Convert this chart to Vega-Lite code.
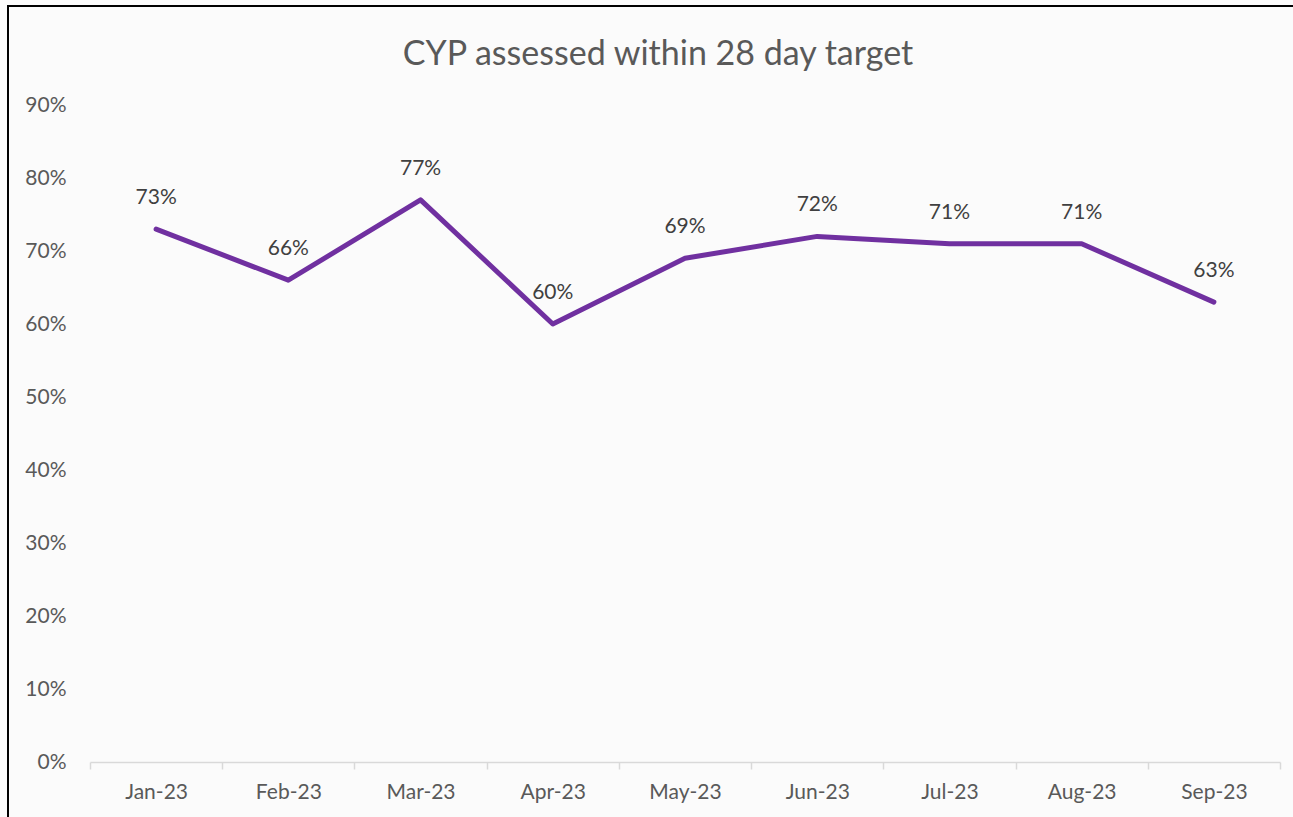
{
  "$schema": "https://vega.github.io/schema/vega-lite/v6.json",
  "autosize": {"type": "none"},
  "padding": {"left": 8, "top": 6, "right": 0, "bottom": 0},
  "width": 1300,
  "height": 820,
  "background": "#fbfbfb",
  "config": {
    "view": {"stroke": "#000000", "strokeWidth": 2, "fill": "#fbfbfb"},
    "font": "Lato"
  },
  "title": {
    "text": "CYP assessed within 28 day target",
    "anchor": "middle",
    "frame": "group",
    "orient": "top",
    "offset": -56,
    "dy": 37,
    "baseline": "alphabetic",
    "fontSize": 34,
    "font": "Lato",
    "fontWeight": "normal",
    "color": "#595959"
  },
  "data": {
    "values": [
      {"month": "Jan-23", "pct": 0.73},
      {"month": "Feb-23", "pct": 0.66},
      {"month": "Mar-23", "pct": 0.77},
      {"month": "Apr-23", "pct": 0.60},
      {"month": "May-23", "pct": 0.69},
      {"month": "Jun-23", "pct": 0.72},
      {"month": "Jul-23", "pct": 0.71},
      {"month": "Aug-23", "pct": 0.71},
      {"month": "Sep-23", "pct": 0.63}
    ]
  },
  "encoding": {
    "x": {
      "field": "month",
      "type": "ordinal",
      "sort": null,
      "bandPosition": 0.5,
      "scale": {"type": "band", "range": [82, 1272], "paddingInner": 0, "paddingOuter": 0},
      "axis": {
        "orient": "bottom",
        "offset": -64,
        "title": null,
        "grid": false,
        "domainColor": "#d9d9d9",
        "domainWidth": 1.5,
        "tickColor": "#d9d9d9",
        "tickWidth": 1.5,
        "tickSize": 7,
        "tickBand": "extent",
        "labelAngle": 0,
        "labelPadding": 12,
        "labelFontSize": 21,
        "labelColor": "#595959",
        "labelFont": "Lato"
      }
    },
    "y": {
      "field": "pct",
      "type": "quantitative",
      "scale": {"domain": [0, 0.9], "range": [756, 99], "nice": false, "zero": true},
      "axis": {
        "orient": "left",
        "offset": -58,
        "title": null,
        "grid": false,
        "domain": false,
        "ticks": false,
        "tickSize": 0,
        "labelPadding": 0,
        "format": ".0%",
        "values": [0, 0.1, 0.2, 0.3, 0.4, 0.5, 0.6, 0.7, 0.8, 0.9],
        "labelFontSize": 21,
        "labelColor": "#595959",
        "labelFont": "Lato"
      }
    }
  },
  "layer": [
    {
      "mark": {"type": "line", "color": "#7030a0", "strokeWidth": 5, "strokeCap": "round", "strokeJoin": "round"}
    },
    {
      "mark": {"type": "text", "dy": -25, "baseline": "alphabetic", "align": "center", "fontSize": 21, "color": "#404040", "font": "Lato"},
      "encoding": {"text": {"field": "pct", "type": "quantitative", "format": ".0%"}}
    }
  ]
}
